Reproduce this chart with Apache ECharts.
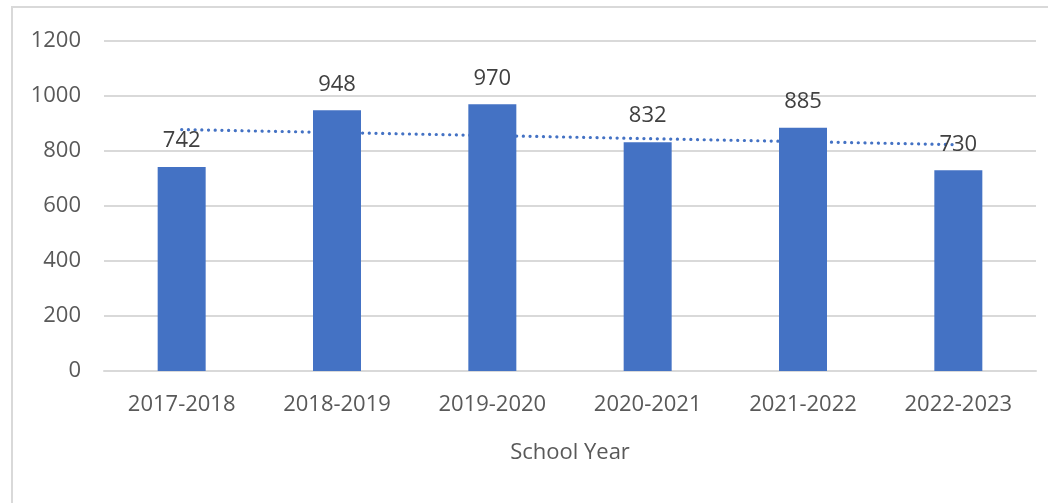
<!DOCTYPE html>
<html>
<head>
<meta charset="utf-8">
<script src="https://cdn.jsdelivr.net/npm/echarts@6/dist/echarts.min.js"></script>
<style>
html,body{margin:0;padding:0;background:#fff;}
#c{width:1048px;height:503px;}
</style>
</head>
<body>
<div id="c"></div>
<script>
const categories = ['2017-2018','2018-2019','2019-2020','2020-2021','2021-2022','2022-2023'];
const values = [742, 948, 970, 832, 885, 730];
// linear trendline endpoints (first and last category)
const trendEnds = [878, 823];
const yTicks = {min: 0, max: 1200, interval: 200};

const FONT = '"Open Sans", sans-serif';
const chart = echarts.init(document.getElementById('c'));
chart.setOption({
  animation: false,
  backgroundColor: '#fff',
  textStyle: {fontFamily: FONT},
  graphic: [{
    type: 'rect', silent: true, z: -10,
    shape: {x: 12, y: 7, width: 1100, height: 600},
    style: {fill: 'none', stroke: '#d9d9d9', lineWidth: 2}
  }],
  grid: {left: 104, right: 12, top: 41, bottom: 132, containLabel: false},
  xAxis: {
    type: 'category',
    data: categories,
    axisTick: {show: false},
    axisLine: {lineStyle: {color: '#d9d9d9', width: 2}},
    axisLabel: {fontSize: 22, color: '#595959', margin: 23, fontFamily: FONT},
    name: 'School Year',
    nameLocation: 'middle',
    nameGap: 71,
    nameTextStyle: {fontSize: 22, color: '#595959', fontFamily: FONT}
  },
  yAxis: {
    type: 'value',
    min: yTicks.min, max: yTicks.max, interval: yTicks.interval,
    axisLine: {show: false},
    axisTick: {show: false},
    axisLabel: {fontSize: 22, color: '#595959', margin: 23, fontFamily: FONT,
      formatter: v => String(v)},
    splitLine: {lineStyle: {color: '#d9d9d9', width: 2}}
  },
  series: [
    {
      type: 'line',
      z: 1,
      data: [[categories[0], trendEnds[0]], [categories[categories.length - 1], trendEnds[1]]],
      symbol: 'none',
      lineStyle: {color: '#4472C4', width: 3.2, type: [0.1, 6.6], cap: 'round'}
    },
    {
      type: 'bar',
      z: 3,
      data: values,
      barWidth: 48,
      itemStyle: {color: '#4472C4'},
      label: {show: true, position: 'top', distance: 15, fontSize: 22, color: '#404040', fontFamily: FONT}
    }
  ]
});
</script>
</body>
</html>
